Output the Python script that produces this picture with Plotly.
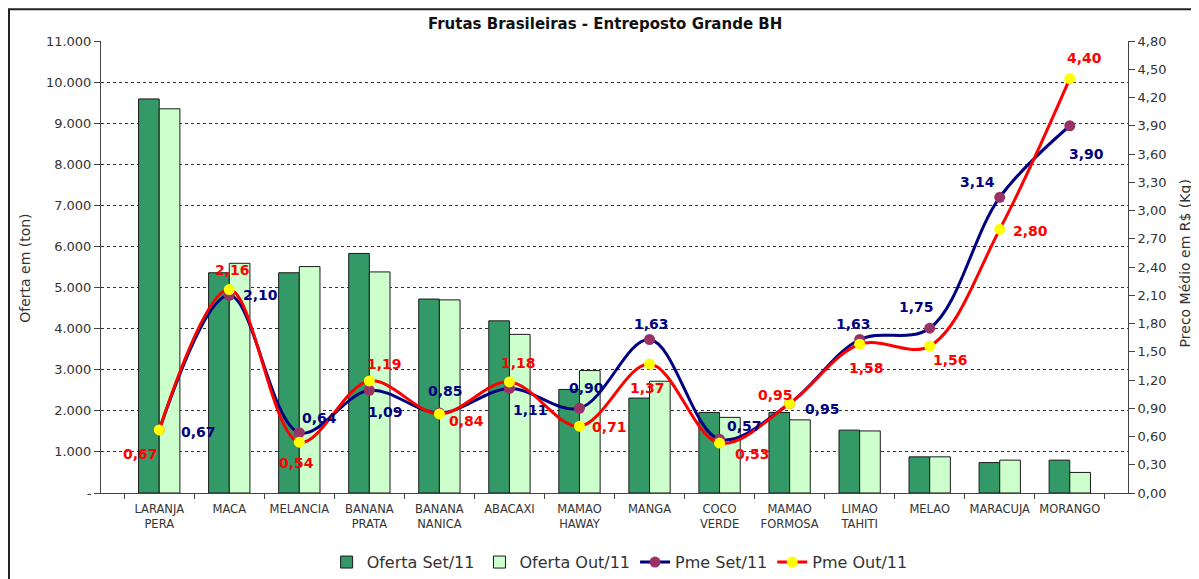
import plotly.graph_objects as go

categories = ["LARANJA<br>PERA", "MACA", "MELANCIA", "BANANA<br>PRATA", "BANANA<br>NANICA",
              "ABACAXI", "MAMAO<br>HAWAY", "MANGA", "COCO<br>VERDE", "MAMAO<br>FORMOSA",
              "LIMAO<br>TAHITI", "MELAO", "MARACUJA", "MORANGO"]
oferta_set = [9590, 5360, 5360, 5830, 4720, 4190, 2520, 2310, 1960, 1960, 1530, 880, 740, 800]
oferta_out = [9350, 5590, 5510, 5380, 4700, 3860, 2980, 2720, 1840, 1780, 1510, 880, 800, 500]
pme_set = [0.67, 2.10, 0.64, 1.09, 0.85, 1.11, 0.90, 1.63, 0.57, 0.95, 1.63, 1.75, 3.14, 3.90]
pme_out = [0.67, 2.16, 0.54, 1.19, 0.84, 1.18, 0.71, 1.37, 0.53, 0.95, 1.58, 1.56, 2.80, 4.40]

left_ticks = [0, 1000, 2000, 3000, 4000, 5000, 6000, 7000, 8000, 9000, 10000, 11000]
left_ticktext = ["-", "1.000", "2.000", "3.000", "4.000", "5.000", "6.000", "7.000",
                 "8.000", "9.000", "10.000", "11.000"]
right_ticks = [0.0, 0.3, 0.6, 0.9, 1.2, 1.5, 1.8, 2.1, 2.4, 2.7, 3.0, 3.3, 3.6, 3.9, 4.2, 4.5, 4.8]
right_ticktext = [f"{v:.2f}".replace(".", ",") for v in right_ticks]

# label offsets (pixels): style only
set_dx = [39, 31, 20, 16, 6, 21, 7, 2, 25, 33, -6, -13, -22, 17]
set_dy = [-2, 0, 15, -22, 22, -22, 20, 16, 13, -5, 16, 21, 15, -28]
out_dx = [-19, 3, -3, 15, 27, 9, 30, -2, 33, -14, 7, 21, 31, 15]
out_dy = [-24, 20, -21, 17, -7, 19, -1, -24, -11, 9, -24, -14, -2, 21]

FONT = "DejaVu Sans"

fig = go.Figure()
fig.add_trace(go.Bar(x=categories, y=oferta_set, name="Oferta Set/11",
                     marker=dict(color="#339966", line=dict(color="#1a1a1a", width=1))))
fig.add_trace(go.Bar(x=categories, y=oferta_out, name="Oferta Out/11",
                     marker=dict(color="#CCFFCC", line=dict(color="#1a1a1a", width=1))))
fig.add_trace(go.Scatter(x=categories, y=pme_set, name="Pme Set/11", yaxis="y2",
                         mode="lines+markers",
                         line=dict(color="#000080", width=3, shape="spline", smoothing=1),
                         marker=dict(color="#993366", size=11)))
fig.add_trace(go.Scatter(x=categories, y=pme_out, name="Pme Out/11", yaxis="y2",
                         mode="lines+markers",
                         line=dict(color="#FF0000", width=3, shape="spline", smoothing=1),
                         marker=dict(color="#FFFF00", size=11)))

annotations = []
for i, c in enumerate(categories):
    annotations.append(dict(x=c, y=pme_set[i], xref="x", yref="y2",
                            text=f"{pme_set[i]:.2f}".replace(".", ","), showarrow=False,
                            xshift=set_dx[i], yshift=set_dy[i],
                            font=dict(family=FONT, size=14, color="#000080", weight="bold")))
    annotations.append(dict(x=c, y=pme_out[i], xref="x", yref="y2",
                            text=f"{pme_out[i]:.2f}".replace(".", ","), showarrow=False,
                            xshift=out_dx[i], yshift=out_dy[i],
                            font=dict(family=FONT, size=14, color="#FF0000", weight="bold")))

# axis titles as annotations (placed in paper space)
annotations.append(dict(text="Oferta em (ton)", xref="paper", yref="paper", x=-0.074, y=0.496,
                        xanchor="center", yanchor="middle", textangle=-90, showarrow=False,
                        font=dict(family=FONT, size=14, color="#333333")))
annotations.append(dict(text="Preço Médio em R$ (Kg)", xref="paper", yref="paper", x=1.0555, y=0.508,
                        xanchor="center", yanchor="middle", textangle=-90, showarrow=False,
                        font=dict(family=FONT, size=14, color="#333333")))

# the page places the figure 8px from the top-left corner; margins compensate
fig.update_layout(
    width=1199, height=579,
    margin=dict(l=93, r=79, t=33, b=94, autoexpand=False),
    paper_bgcolor="white", plot_bgcolor="white",
    font=dict(family=FONT, size=13, color="#333333"),
    title=dict(text="<b>Frutas Brasileiras - Entreposto Grande BH</b>", x=0.498, xanchor="center",
               y=0.972, yanchor="middle", font=dict(family=FONT, size=15, color="#111111")),
    barmode="group", bargap=0.41, bargroupgap=0,
    showlegend=True,
    legend=dict(orientation="h", x=0.505, xanchor="center", y=-0.153, yanchor="middle",
                font=dict(family=FONT, size=16, color="#333333"), traceorder="normal"),
    xaxis=dict(type="category", tickson="boundaries", ticks="outside", ticklen=5,
               tickcolor="#444444", showline=True, linecolor="#444444", linewidth=1,
               tickangle=0, ticklabelstandoff=5,
               tickfont=dict(family=FONT, size=11.5, color="#333333"), showgrid=False,
               automargin=False),
    yaxis=dict(range=[0, 11000], tickvals=left_ticks, ticktext=left_ticktext,
               ticks="outside", ticklen=6, tickcolor="#444444",
               showline=True, linecolor="#444444", linewidth=1,
               showgrid=True, gridcolor="#333333", griddash="3px,3px", gridwidth=1,
               zeroline=False, automargin=False,
               tickfont=dict(family=FONT, size=13, color="#333333")),
    yaxis2=dict(range=[0, 4.8], tickvals=right_ticks, ticktext=right_ticktext,
                overlaying="y", side="right", ticks="outside", ticklen=6, tickcolor="#444444",
                showline=True, linecolor="#444444", linewidth=1, showgrid=False, zeroline=False,
                automargin=False,
                tickfont=dict(family=FONT, size=13, color="#333333")),
    annotations=annotations,
    shapes=[dict(type="rect", xref="paper", yref="paper", x0=-0.0896, x1=1.09,
                 y0=-0.25, y1=1.0705, line=dict(color="#222222", width=2), layer="below")],
)

fig.write_html("out.html")
